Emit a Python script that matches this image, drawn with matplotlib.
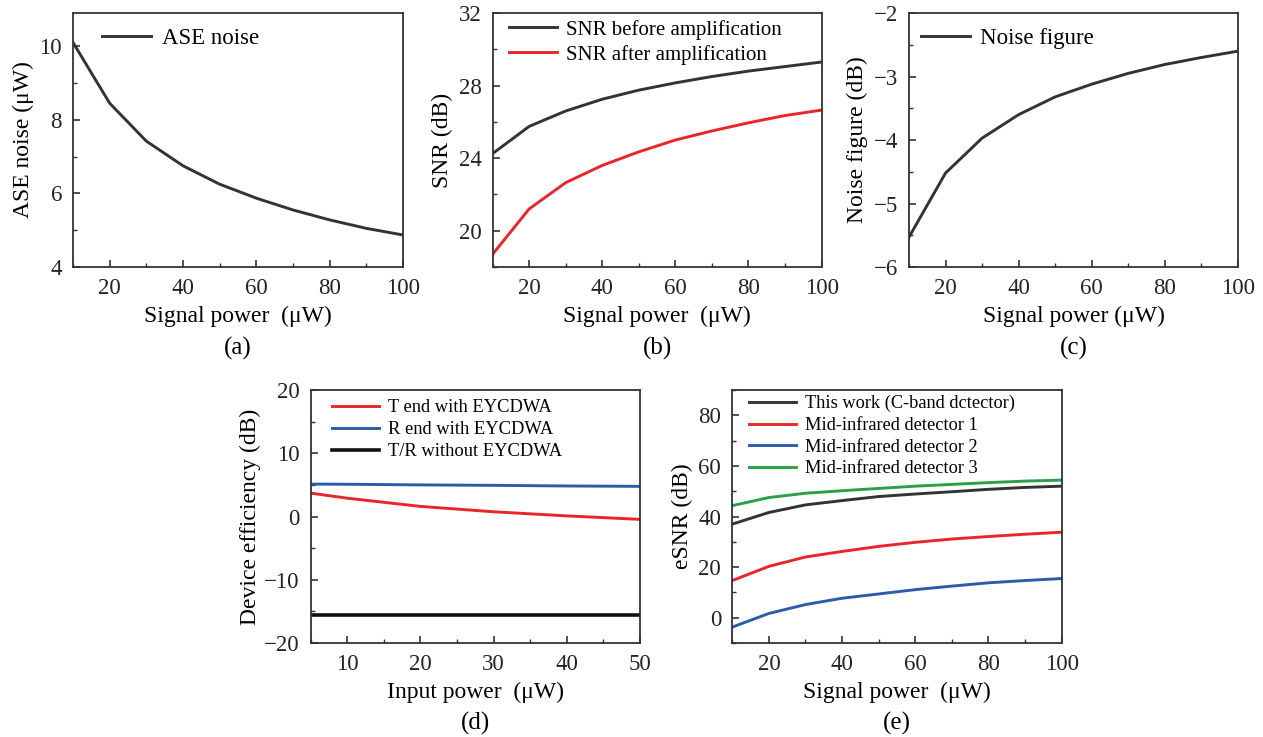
import matplotlib
matplotlib.use("Agg")
import matplotlib.pyplot as plt
from matplotlib.ticker import MultipleLocator

plt.rcParams['font.family'] = ['Liberation Serif', 'DejaVu Serif']

# data
power = [10, 20, 30, 40, 50, 60, 70, 80, 90, 100]
ase_noise = [10.1, 8.45, 7.42, 6.75, 6.25, 5.87, 5.55, 5.28, 5.05, 4.87]
snr_before = [24.25, 25.75, 26.6, 27.25, 27.75, 28.15, 28.5, 28.8, 29.05, 29.3]
snr_after = [18.7, 21.2, 22.65, 23.6, 24.35, 25.0, 25.5, 25.95, 26.35, 26.65]
noise_fig = [-5.53, -4.52, -3.97, -3.6, -3.32, -3.12, -2.95, -2.81, -2.7, -2.6]

input_power = [5, 10, 20, 30, 40, 50]
t_end = [3.7, 2.9, 1.6, 0.75, 0.1, -0.45]
r_end = [5.13, 5.1, 5.0, 4.93, 4.83, 4.77]
no_eycdwa = [-15.6, -15.6, -15.6, -15.6, -15.6, -15.6]

esnr_this = [37.0, 41.6, 44.6, 46.3, 47.9, 48.9, 49.8, 50.75, 51.5, 52.0]
esnr_mid1 = [14.7, 20.3, 24.0, 26.2, 28.2, 29.8, 31.1, 32.1, 33.0, 33.8]
esnr_mid2 = [-3.7, 1.7, 5.2, 7.7, 9.4, 11.1, 12.5, 13.8, 14.7, 15.5]
esnr_mid3 = [44.3, 47.5, 49.2, 50.2, 51.1, 52.0, 52.7, 53.4, 54.0, 54.4]

BLACK = '#333333'
RED = '#e8262a'
BLUE = '#2a5caa'
GREEN = '#2ca048'

TICK_FS = 16.5
LABEL_FS = 17
TAG_FS = 18


def style(ax, xmaj, xmin, ymaj, ymin):
    for s in ax.spines.values():
        s.set_color(BLACK)
        s.set_linewidth(1.3)
    ax.xaxis.set_major_locator(MultipleLocator(xmaj))
    ax.xaxis.set_minor_locator(MultipleLocator(xmin))
    ax.yaxis.set_major_locator(MultipleLocator(ymaj))
    ax.yaxis.set_minor_locator(MultipleLocator(ymin))
    ax.tick_params(which='both', direction='in', top=False, right=False,
                   colors=BLACK, labelsize=TICK_FS, labelcolor='#222222')
    ax.tick_params(which='major', length=5, width=1.2, pad=8)
    ax.tick_params(which='minor', length=3, width=1.0)


def legend(ax, x, y, fs, hl, spacing=0.2):
    ax.legend(loc='upper left', frameon=False, fontsize=fs, handlelength=hl,
              handletextpad=0.45, labelspacing=spacing, borderpad=0,
              borderaxespad=0, bbox_to_anchor=(x, y))


fig = plt.figure(figsize=(12.63, 7.37), dpi=100)

# (a)
ax = fig.add_axes([0.0578, 0.6377, 0.2613, 0.3446])
ax.plot(power, ase_noise, color=BLACK, lw=2.1, label='ASE noise')
ax.set_xlim(10, 100)
ax.set_ylim(4, 10.9)
style(ax, 20, 10, 2, 1)
ax.set_xlabel('Signal power  (μW)', fontsize=LABEL_FS, labelpad=5)
ax.set_ylabel('ASE noise (μW)', fontsize=LABEL_FS, labelpad=4)
legend(ax, 0.088, 0.943, 16.5, 2.15)
ax.text(0.5, -0.322, '(a)', transform=ax.transAxes, ha='center', va='center', fontsize=TAG_FS)

# (b)
ax = fig.add_axes([0.390, 0.6377, 0.2605, 0.3446])
ax.plot(power, snr_before, color=BLACK, lw=2.1, label='SNR before amplification')
ax.plot(power, snr_after, color=RED, lw=2.1, label='SNR after amplification')
ax.set_xlim(10, 100)
ax.set_ylim(18, 32)
style(ax, 20, 10, 4, 2)
ax.set_xlabel('Signal power  (μW)', fontsize=LABEL_FS, labelpad=5)
ax.set_ylabel('SNR (dB)', fontsize=LABEL_FS, labelpad=4)
legend(ax, 0.05, 0.974, 15, 2.3, spacing=0.25)
ax.text(0.5, -0.322, '(b)', transform=ax.transAxes, ha='center', va='center', fontsize=TAG_FS)

# (c)
ax = fig.add_axes([0.7197, 0.6377, 0.2605, 0.3446])
ax.plot(power, noise_fig, color=BLACK, lw=2.1, label='Noise figure')
ax.set_xlim(10, 100)
ax.set_ylim(-6, -2)
style(ax, 20, 10, 1, 0.5)
ax.set_xlabel('Signal power (μW)', fontsize=LABEL_FS, labelpad=5)
ax.set_ylabel('Noise figure (dB)', fontsize=LABEL_FS, labelpad=4)
legend(ax, 0.036, 0.943, 16.5, 2.15)
ax.text(0.5, -0.322, '(c)', transform=ax.transAxes, ha='center', va='center', fontsize=TAG_FS)

# (d)
ax = fig.add_axes([0.246, 0.1275, 0.2607, 0.3433])
ax.plot(input_power, t_end, color=RED, lw=2.1, label='T end with EYCDWA')
ax.plot(input_power, r_end, color=BLUE, lw=2.1, label='R end with EYCDWA')
ax.plot(input_power, no_eycdwa, color='#111111', lw=2.6, label='T/R without EYCDWA')
ax.set_xlim(5, 50)
ax.set_ylim(-20, 20)
style(ax, 10, 5, 10, 5)
ax.set_xlabel('Input power  (μW)', fontsize=LABEL_FS, labelpad=5)
ax.set_ylabel('Device efficiency (dB)', fontsize=LABEL_FS, labelpad=2)
legend(ax, 0.065, 0.964, 13.3, 2.55, spacing=0.27)
ax.text(0.5, -0.318, '(d)', transform=ax.transAxes, ha='center', va='center', fontsize=TAG_FS)

# (e)
ax = fig.add_axes([0.5798, 0.1275, 0.2608, 0.3433])
ax.plot(power, esnr_this, color=BLACK, lw=2.1, label='This work (C-band dctector)')
ax.plot(power, esnr_mid1, color=RED, lw=2.1, label='Mid-infrared detector 1')
ax.plot(power, esnr_mid2, color=BLUE, lw=2.1, label='Mid-infrared detector 2')
ax.plot(power, esnr_mid3, color=GREEN, lw=2.1, label='Mid-infrared detector 3')
ax.set_xlim(10, 100)
ax.set_ylim(-10, 90)
style(ax, 20, 10, 20, 10)
ax.set_xlabel('Signal power  (μW)', fontsize=LABEL_FS, labelpad=5)
ax.set_ylabel('eSNR (dB)', fontsize=LABEL_FS, labelpad=4)
legend(ax, 0.05, 0.98, 13.2, 2.6, spacing=0.25)
ax.text(0.5, -0.318, '(e)', transform=ax.transAxes, ha='center', va='center', fontsize=TAG_FS)

fig.savefig('out.png', dpi=100)
